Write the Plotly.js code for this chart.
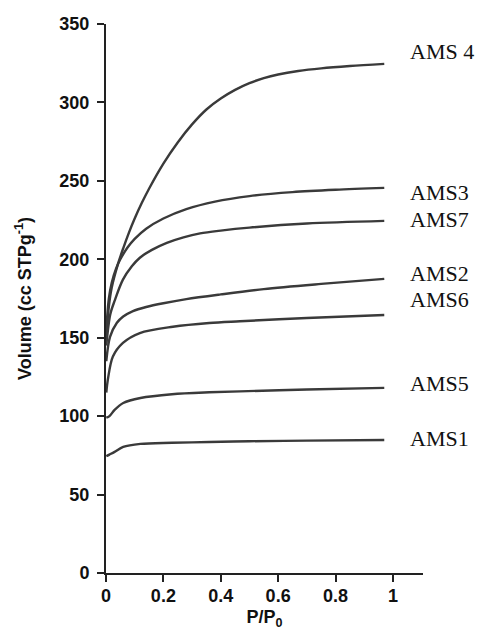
<!DOCTYPE html>
<html>
<head>
<meta charset="utf-8">
<script src="https://cdn.plot.ly/plotly-3.0.1.min.js"></script>
<style>
  html, body { margin: 0; padding: 0; background: #fff; }
  #plot { width: 478px; height: 634px; }
</style>
</head>
<body>
<div id="plot"></div>
<script>
// Nitrogen adsorption isotherms for the AMS samples (volume adsorbed vs relative pressure)
const ams4_x = [0.001, 0.01, 0.02, 0.04, 0.06, 0.08, 0.1, 0.125, 0.15, 0.2, 0.25, 0.3, 0.35, 0.4, 0.45, 0.5, 0.55, 0.6, 0.67, 0.75, 0.85, 0.97];
const ams4_y = [150, 170, 182, 196, 207, 217, 226, 236, 245, 261, 274.5, 286, 295.5, 302.5, 308, 312.3, 315.5, 317.8, 320, 321.7, 323.2, 324.6];

const ams3_x = [0.001, 0.01, 0.02, 0.035, 0.05, 0.075, 0.1, 0.14, 0.2, 0.28, 0.38, 0.5, 0.65, 0.8, 0.97];
const ams3_y = [155, 175, 185, 194, 200, 207.5, 213, 219.5, 226, 232, 236.8, 240.3, 242.8, 244.3, 245.5];

const ams7_x = [0.001, 0.015, 0.031, 0.059, 0.09, 0.118, 0.16, 0.212, 0.27, 0.328, 0.4, 0.5, 0.7, 0.97];
const ams7_y = [145, 165, 174, 187, 195.5, 201, 206, 210.5, 214, 216.5, 218.3, 220.2, 222.8, 224.5];

const ams2_x = [0.001, 0.014, 0.038, 0.06, 0.094, 0.14, 0.2, 0.28, 0.4, 0.55, 0.75, 0.97];
const ams2_y = [135, 150.5, 159.5, 163.5, 167, 169.6, 172, 174.6, 177.6, 181, 184.3, 187.5];

const ams6_x = [0.001, 0.007, 0.024, 0.059, 0.118, 0.233, 0.36, 0.467, 0.7, 0.97];
const ams6_y = [115, 124, 138, 146.7, 153, 157, 159.4, 160.5, 162.6, 164.5];

const ams5_x = [0.001, 0.012, 0.03, 0.06, 0.12, 0.23, 0.36, 0.467, 0.7, 0.97];
const ams5_y = [99, 100, 104, 108.4, 111.6, 114, 115.2, 115.8, 117, 118];

const ams1_x = [0.001, 0.012, 0.03, 0.06, 0.12, 0.23, 0.36, 0.5, 0.7, 0.97];
const ams1_y = [74.5, 75.5, 77.2, 80.4, 82.3, 83, 83.5, 84, 84.4, 84.8];

// Sample names and where each name sits beside its curve
const sampleNames = ['AMS 4', 'AMS3', 'AMS7', 'AMS2', 'AMS6', 'AMS5', 'AMS1'];
const labelY = [332.5, 242.3, 225.1, 190.7, 174.1, 120.5, 85.5];
const labelX = 1.052;

const xTicks = [0, 0.2, 0.4, 0.6, 0.8, 1];
const xTickText = ['0', '0.2', '0.4', '0.6', '0.8', '1'];
const yTicks = [0, 50, 100, 150, 200, 250, 300, 350];

const series = [
  [ams4_x, ams4_y], [ams3_x, ams3_y], [ams7_x, ams7_y], [ams2_x, ams2_y],
  [ams6_x, ams6_y], [ams5_x, ams5_y], [ams1_x, ams1_y]
];

const lineColor = '#3a3a3a';
const axisColor = '#222';
const sansBold = 'Liberation Sans, Arial, sans-serif';

const traces = series.map((s, i) => ({
  x: s[0], y: s[1], name: sampleNames[i],
  type: 'scatter', mode: 'lines',
  line: { color: lineColor, width: 2.4, shape: 'spline', smoothing: 0.9 },
  hoverinfo: 'x+y+name'
}));

const annotations = sampleNames.map((n, i) => ({
  x: labelX, y: labelY[i], xref: 'x', yref: 'y',
  text: n, showarrow: false, xanchor: 'left', yanchor: 'middle',
  font: { family: 'Liberation Serif, Times New Roman, serif', size: 22, color: '#111' }
}));

const layout = {
  width: 478, height: 634,
  margin: { l: 106, r: 55, t: 24, b: 61 },
  paper_bgcolor: '#fff', plot_bgcolor: '#fff',
  showlegend: false,
  xaxis: {
    range: [0, 1.105], tickvals: xTicks, ticktext: xTickText,
    showline: true, linewidth: 2, linecolor: axisColor,
    ticks: 'outside', ticklen: 7, tickwidth: 2, tickcolor: axisColor,
    ticklabelstandoff: -2,
    showgrid: false, zeroline: false, automargin: false,
    tickfont: { family: sansBold, size: 18, color: '#111', weight: 'bold' },
    title: { text: '<b>P/P<sub>0</sub></b>', standoff: 6,
             font: { family: sansBold, size: 18, color: '#111' } }
  },
  yaxis: {
    range: [0, 350], tickvals: yTicks,
    showline: true, linewidth: 2, linecolor: axisColor,
    ticks: 'outside', ticklen: 7, tickwidth: 2, tickcolor: axisColor,
    ticklabelstandoff: 4,
    showgrid: false, zeroline: false, automargin: false,
    tickfont: { family: sansBold, size: 18, color: '#111', weight: 'bold' },
    title: { text: '<b>Volume (cc STPg<sup>-1</sup>)</b>', standoff: 23,
             font: { family: sansBold, size: 18, color: '#111' } }
  },
  annotations: annotations
};

Plotly.newPlot('plot', traces, layout, { displayModeBar: false, staticPlot: true });
</script>
</body>
</html>
